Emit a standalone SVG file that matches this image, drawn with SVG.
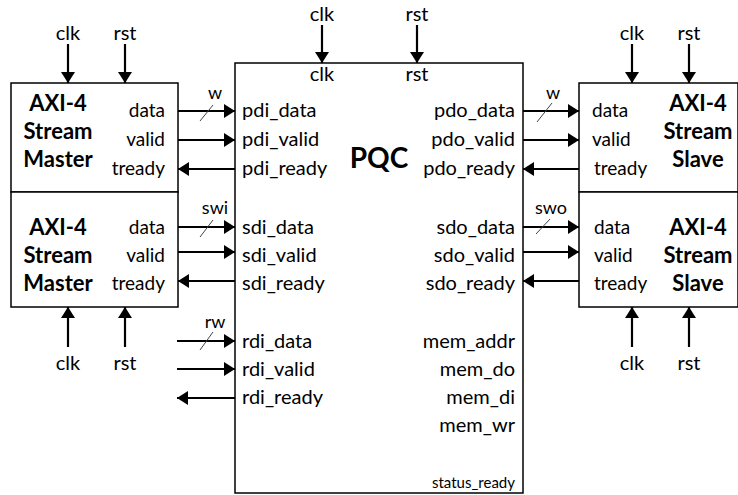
<svg xmlns="http://www.w3.org/2000/svg" width="738" height="495" viewBox="0 0 738 495">
<style>
.box{fill:#fff;stroke:#000;stroke-width:1.5}
.w{stroke:#000;stroke-width:2.2;fill:none}
.sl{stroke:#444;stroke-width:1}
text{font-family:"Lato","Liberation Sans",sans-serif;fill:#000}
.t{font-size:19px}
.p{font-size:20px}
.b{font-size:22px;font-weight:bold}
.s{font-size:18px}
.m{text-anchor:middle}
.e{text-anchor:end}
</style>
<defs>
<marker id="ah" markerWidth="11" markerHeight="14" refX="11" refY="7" orient="auto" markerUnits="userSpaceOnUse"><path d="M0,0 L11,7 L0,14 z" fill="#000"/></marker>
</defs>
<rect width="738" height="495" fill="#fff"/>
<g id="master1">
<rect class="box" x="11" y="83" width="167" height="109"/>
<text class="b m" x="58" y="111">AXI-4</text>
<text class="b m" x="58" y="139">Stream</text>
<text class="b m" x="58" y="167">Master</text>
<text class="t e" x="165" y="117">data</text>
<text class="t e" x="165" y="146">valid</text>
<text class="t e" x="165" y="175">tready</text>
</g>
<g id="master2">
<rect class="box" x="11" y="192" width="167" height="115"/>
<text class="b m" x="58" y="235">AXI-4</text>
<text class="b m" x="58" y="263">Stream</text>
<text class="b m" x="58" y="291">Master</text>
<text class="t e" x="165" y="234">data</text>
<text class="t e" x="165" y="262">valid</text>
<text class="t e" x="165" y="290">tready</text>
</g>
<g id="pqc">
<rect class="box" x="235" y="63" width="288" height="430"/>
<text class="b m" x="379" y="168" style="font-size:28px">PQC</text>
<text class="p m" x="322" y="81">clk</text>
<text class="p m" x="417" y="81">rst</text>
<text class="p" x="242" y="117">pdi_data</text>
<text class="p" x="242" y="146">pdi_valid</text>
<text class="p" x="242" y="175">pdi_ready</text>
<text class="p" x="242" y="234">sdi_data</text>
<text class="p" x="242" y="262">sdi_valid</text>
<text class="p" x="242" y="290">sdi_ready</text>
<text class="p" x="242" y="348">rdi_data</text>
<text class="p" x="242" y="376">rdi_valid</text>
<text class="p" x="242" y="404">rdi_ready</text>
<text class="p e" x="515" y="117">pdo_data</text>
<text class="p e" x="515" y="146">pdo_valid</text>
<text class="p e" x="515" y="175">pdo_ready</text>
<text class="p e" x="515" y="234">sdo_data</text>
<text class="p e" x="515" y="262">sdo_valid</text>
<text class="p e" x="515" y="290">sdo_ready</text>
<text class="p e" x="515" y="348">mem_addr</text>
<text class="p e" x="515" y="376">mem_do</text>
<text class="p e" x="515" y="404">mem_di</text>
<text class="p e" x="515" y="432">mem_wr</text>
<text class="e" x="515" y="488" style="font-size:15px">status_ready</text>
</g>
<g id="slave1">
<rect class="box" x="579" y="83" width="159" height="109"/>
<text class="b m" x="698" y="111">AXI-4</text>
<text class="b m" x="698" y="139">Stream</text>
<text class="b m" x="698" y="167">Slave</text>
<text class="t" x="592" y="117">data</text>
<text class="t" x="592" y="146">valid</text>
<text class="t" x="594" y="175">tready</text>
</g>
<g id="slave2">
<rect class="box" x="579" y="192" width="159" height="115"/>
<text class="b m" x="698" y="235">AXI-4</text>
<text class="b m" x="698" y="263">Stream</text>
<text class="b m" x="698" y="291">Slave</text>
<text class="t" x="594" y="234">data</text>
<text class="t" x="594" y="262">valid</text>
<text class="t" x="594" y="290">tready</text>
</g>
<g id="clkrst-labels">
<text class="p m" x="68" y="40">clk</text>
<text class="p m" x="125" y="40">rst</text>
<text class="p m" x="322" y="21">clk</text>
<text class="p m" x="417" y="21">rst</text>
<text class="p m" x="632" y="40">clk</text>
<text class="p m" x="689" y="40">rst</text>
<text class="p m" x="68" y="370">clk</text>
<text class="p m" x="125" y="370">rst</text>
<text class="p m" x="632" y="370">clk</text>
<text class="p m" x="689" y="370">rst</text>
</g>
<g id="connectors">
<line class="w" x1="68" y1="44" x2="68" y2="83" marker-end="url(#ah)"/>
<line class="w" x1="125" y1="44" x2="125" y2="83" marker-end="url(#ah)"/>
<line class="w" x1="322" y1="25" x2="322" y2="63" marker-end="url(#ah)"/>
<line class="w" x1="417" y1="25" x2="417" y2="63" marker-end="url(#ah)"/>
<line class="w" x1="632" y1="44" x2="632" y2="83" marker-end="url(#ah)"/>
<line class="w" x1="689" y1="44" x2="689" y2="83" marker-end="url(#ah)"/>
<line class="w" x1="68" y1="347" x2="68" y2="307" marker-end="url(#ah)"/>
<line class="w" x1="125" y1="347" x2="125" y2="307" marker-end="url(#ah)"/>
<line class="w" x1="632" y1="347" x2="632" y2="307" marker-end="url(#ah)"/>
<line class="w" x1="689" y1="347" x2="689" y2="307" marker-end="url(#ah)"/>
<line class="w" x1="178" y1="111" x2="235" y2="111" marker-end="url(#ah)"/>
<line class="w" x1="178" y1="140" x2="235" y2="140" marker-end="url(#ah)"/>
<line class="w" x1="235" y1="169" x2="178" y2="169" marker-end="url(#ah)"/>
<line class="w" x1="178" y1="227" x2="235" y2="227" marker-end="url(#ah)"/>
<line class="w" x1="178" y1="252" x2="235" y2="252" marker-end="url(#ah)"/>
<line class="w" x1="235" y1="281" x2="178" y2="281" marker-end="url(#ah)"/>
<line class="w" x1="177" y1="341" x2="235" y2="341" marker-end="url(#ah)"/>
<line class="w" x1="177" y1="369" x2="235" y2="369" marker-end="url(#ah)"/>
<line class="w" x1="235" y1="398" x2="177" y2="398" marker-end="url(#ah)"/>
<line class="w" x1="523" y1="111" x2="579" y2="111" marker-end="url(#ah)"/>
<line class="w" x1="523" y1="140" x2="579" y2="140" marker-end="url(#ah)"/>
<line class="w" x1="579" y1="169" x2="523" y2="169" marker-end="url(#ah)"/>
<line class="w" x1="523" y1="227" x2="579" y2="227" marker-end="url(#ah)"/>
<line class="w" x1="523" y1="252" x2="579" y2="252" marker-end="url(#ah)"/>
<line class="w" x1="579" y1="281" x2="523" y2="281" marker-end="url(#ah)"/>
<line class="sl" x1="200" y1="121" x2="213" y2="105"/>
<line class="sl" x1="200" y1="237" x2="213" y2="220"/>
<line class="sl" x1="200" y1="350" x2="213" y2="332"/>
<line class="sl" x1="537" y1="122" x2="552" y2="103"/>
<line class="sl" x1="536" y1="234" x2="550" y2="219"/>
<text class="s m" x="215" y="99">w</text>
<text class="s m" x="215" y="214">swi</text>
<text class="s m" x="215" y="328">rw</text>
<text class="s m" x="553" y="99">w</text>
<text class="s m" x="551" y="214">swo</text>
</g>
</svg>
